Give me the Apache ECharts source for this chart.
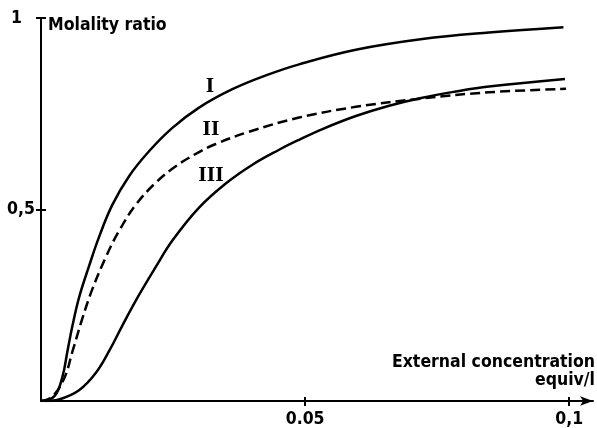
<!DOCTYPE html>
<html><head><meta charset="utf-8">
<script src="https://cdn.jsdelivr.net/npm/echarts@6/dist/echarts.min.js"></script>
<style>html,body{margin:0;padding:0;background:#fff}#c{width:597px;height:428px}</style>
</head><body><div id="c"></div>
<script>
// Curve I (solid)
var xI = [0, 0.0025, 0.00403, 0.00498, 0.00593, 0.0072, 0.00909, 0.01098, 0.0135, 0.01667, 0.02045, 0.02487, 0.02992, 0.03623, 0.04256, 0.04886, 0.0596, 0.0722, 0.0848, 0.0989];
var yI = [0, 0.012, 0.062, 0.128, 0.195, 0.270, 0.352, 0.428, 0.512, 0.587, 0.652, 0.713, 0.766, 0.814, 0.850, 0.879, 0.917, 0.945, 0.962, 0.976];
// Curve II (dashed)
var xII = [0, 0.002, 0.00436, 0.00593, 0.00782, 0.00972, 0.01225, 0.01477, 0.01793, 0.02172, 0.02551, 0.02992, 0.03308, 0.03939, 0.04886, 0.0596, 0.0722, 0.0848, 0.0994];
var yII = [0, 0.01, 0.058, 0.128, 0.215, 0.292, 0.375, 0.444, 0.512, 0.570, 0.613, 0.650, 0.671, 0.703, 0.740, 0.768, 0.790, 0.806, 0.815];
// Curve III (solid)
var xIII = [0.0008, 0.0034, 0.0072, 0.01036, 0.01288, 0.0154, 0.01856, 0.02172, 0.02487, 0.02992, 0.03498, 0.04003, 0.04508, 0.04886, 0.05328, 0.0596, 0.0659, 0.0722, 0.0785, 0.0848, 0.0992];
var yIII = [0, 0.004, 0.028, 0.073, 0.130, 0.197, 0.277, 0.350, 0.419, 0.505, 0.568, 0.617, 0.656, 0.682, 0.710, 0.744, 0.771, 0.792, 0.808, 0.821, 0.841];
// Tick labels
var xTicks = [0.05, 0.1];
var xTickLabels = ['0.05', '0,1'];
var yTicks = [0.5, 1];
var yTickLabels = ['0,5', '1'];
var curveNames = ['I', 'II', 'III'];

function pairs(xs, ys) { return xs.map(function (x, i) { return [x, ys[i]]; }); }

var fam = "'DejaVu Sans Condensed', 'DejaVu Sans', sans-serif";
var sansBold = "bold 17.5px " + fam;
var romanFont = "bold 18px 'DejaVu Serif', 'Liberation Serif', serif";

var chart = echarts.init(document.getElementById('c'), null, { renderer: 'canvas' });
var tickStyle = { color: '#000', width: 2 };
chart.setOption({
  animation: false,
  backgroundColor: '#fff',
  grid: { left: 41, right: 4, top: 18, bottom: 24, containLabel: false },
  xAxis: [
    { type: 'value', min: 0, max: 0.1045, position: 'bottom',
      axisLine: { show: true, symbol: ['none', 'arrow'], symbolSize: [7, 13], lineStyle: { color: '#000', width: 2 } },
      axisTick: { show: true, customValues: xTicks, length: 5, lineStyle: tickStyle },
      axisLabel: { show: true, customValues: xTicks, margin: 9,
        formatter: function (v) { var i = xTicks.indexOf(v); return i >= 0 ? xTickLabels[i] : ''; },
        fontFamily: fam, fontWeight: 'bold', fontSize: 17.5, color: '#000' },
      splitLine: { show: false } },
    { type: 'value', min: 0, max: 0.1045, position: 'bottom',
      axisLine: { show: false },
      axisTick: { show: true, inside: true, customValues: xTicks, length: 4, lineStyle: tickStyle },
      axisLabel: { show: false }, splitLine: { show: false } }
  ],
  yAxis: [
    { type: 'value', min: 0, max: 1, position: 'left',
      axisLine: { show: true, lineStyle: { color: '#000', width: 2 } },
      axisTick: { show: true, customValues: yTicks, length: 5, lineStyle: tickStyle },
      axisLabel: { show: true, customValues: yTicks, margin: 6,
        formatter: function (v) { var i = yTicks.indexOf(v); if (i < 0) return ''; return v === 1 ? '{a|' + yTickLabels[i] + '}' : yTickLabels[i]; },
        rich: { a: { padding: [0, 13, 0, 0], fontFamily: fam, fontWeight: 'bold', fontSize: 17.5, color: '#000' } },
        fontFamily: fam, fontWeight: 'bold', fontSize: 17.5, color: '#000' },
      splitLine: { show: false } },
    { type: 'value', min: 0, max: 1, position: 'left',
      axisLine: { show: false },
      axisTick: { show: true, inside: true, customValues: yTicks, length: 5, lineStyle: tickStyle },
      axisLabel: { show: false }, splitLine: { show: false } }
  ],
  series: [
    { name: curveNames[0], type: 'line', data: pairs(xI, yI), smooth: 0.4, symbol: 'none', lineStyle: { color: '#000', width: 2.5 } },
    { name: curveNames[1], type: 'line', data: pairs(xII, yII), smooth: 0.4, symbol: 'none', lineStyle: { color: '#000', width: 2.5, type: [10, 5] } },
    { name: curveNames[2], type: 'line', data: pairs(xIII, yIII), smooth: 0.4, symbol: 'none', lineStyle: { color: '#000', width: 2.5 } }
  ],
  graphic: [
    { type: 'text', x: 48, y: 25, style: { text: 'Molality ratio', font: sansBold, fill: '#000', align: 'left', verticalAlign: 'middle' } },
    { type: 'text', x: 595, y: 362, style: { text: 'External concentration', font: sansBold, fill: '#000', align: 'right', verticalAlign: 'middle' } },
    { type: 'text', x: 595, y: 380, style: { text: 'equiv/l', font: sansBold, fill: '#000', align: 'right', verticalAlign: 'middle' } },
    { type: 'text', x: 210, y: 87, style: { text: curveNames[0], font: romanFont, fill: '#000', align: 'center', verticalAlign: 'middle' } },
    { type: 'text', x: 211, y: 130, style: { text: curveNames[1], font: romanFont, fill: '#000', align: 'center', verticalAlign: 'middle' } },
    { type: 'text', x: 211, y: 176, style: { text: curveNames[2], font: romanFont, fill: '#000', align: 'center', verticalAlign: 'middle' } }
  ]
});
</script></body></html>
